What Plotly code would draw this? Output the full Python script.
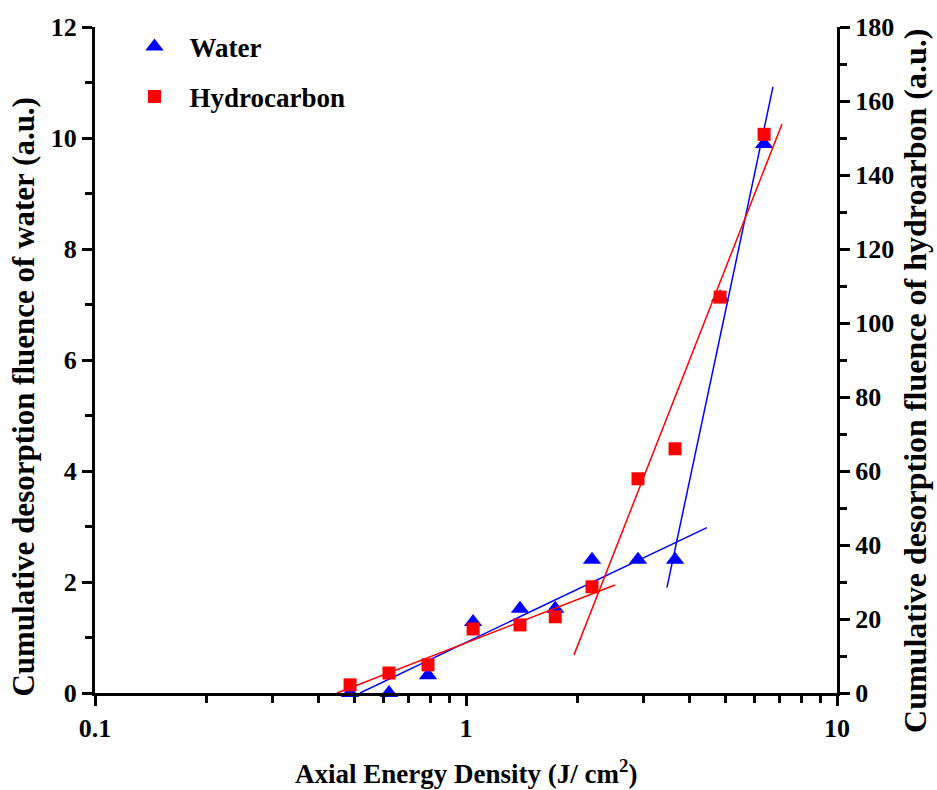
import plotly.graph_objects as go

# Data
energy = [0.487, 0.62, 0.79, 1.045, 1.398, 1.74, 2.186, 2.908, 3.66, 4.84, 6.36]
water = [0.0, 0.0, 0.32, 1.28, 1.52, 1.52, 2.40, 2.40, 2.40, 7.13, 9.89]
hydrocarbon = [2.2, 5.4, 7.6, 17.3, 18.4, 20.6, 28.7, 57.9, 66.0, 107.0, 151.0]

# Linear fit segments (endpoints of fitted lines)
water_fit1_x = [0.518, 4.46]
water_fit1_y = [0.0, 2.98]
water_fit2_x = [3.48, 6.72]
water_fit2_y = [1.9, 10.92]
hc_fit1_x = [0.449, 2.52]
hc_fit1_y = [0.0, 29.2]
hc_fit2_x = [1.955, 7.11]
hc_fit2_y = [10.3, 153.8]

x_tickvals = [0.1, 1, 10]
x_ticktext = ["0.1", "1", "10"]
x_minor_vals = [0.2, 0.3, 0.4, 0.5, 0.6, 0.7, 0.8, 0.9, 2, 3, 4, 5, 6, 7, 8, 9]

FONT = "Times New Roman, Liberation Serif, serif"
BLUE = "#0000ff"
RED = "#ff0000"

fig = go.Figure()

fig.add_trace(go.Scatter(x=water_fit1_x, y=water_fit1_y, mode="lines",
                         line=dict(color=BLUE, width=1.5), showlegend=False, yaxis="y"))
fig.add_trace(go.Scatter(x=water_fit2_x, y=water_fit2_y, mode="lines",
                         line=dict(color=BLUE, width=1.5), showlegend=False, yaxis="y"))
fig.add_trace(go.Scatter(x=hc_fit1_x, y=hc_fit1_y, mode="lines",
                         line=dict(color=RED, width=1.5), showlegend=False, yaxis="y2"))
fig.add_trace(go.Scatter(x=hc_fit2_x, y=hc_fit2_y, mode="lines",
                         line=dict(color=RED, width=1.5), showlegend=False, yaxis="y2"))

fig.add_trace(go.Scatter(x=energy, y=water, mode="markers", name="Water",
                         marker=dict(symbol="triangle-up", size=16, color=BLUE,
                                     line=dict(width=0)),
                         yaxis="y", legendgroup="w", cliponaxis=False))
fig.add_trace(go.Scatter(x=energy, y=hydrocarbon, mode="markers", name="Hydrocarbon",
                         marker=dict(symbol="square", size=13, color=RED,
                                     line=dict(width=0)),
                         yaxis="y2", legendgroup="h", cliponaxis=False))

axis_common = dict(showline=True, linecolor="black", linewidth=3,
                   ticks="outside", tickcolor="black", tickwidth=3, ticklen=10,
                   showgrid=False, zeroline=False,
                   tickfont=dict(family=FONT, size=26, color="black", weight="bold"))

fig.update_layout(
    width=937, height=790,
    margin=dict(l=95, r=100, t=27, b=97),
    paper_bgcolor="white", plot_bgcolor="white",
    font=dict(family=FONT, color="black"),
    showlegend=True,
    legend=dict(x=0.033, y=1.007, xanchor="left", yanchor="top",
                font=dict(family=FONT, size=27, color="black", weight="bold"),
                bgcolor="rgba(0,0,0,0)", tracegroupgap=12, itemwidth=60),
    xaxis=dict(type="log", range=[-1, 1], tickmode="array",
               tickvals=x_tickvals, ticktext=x_ticktext,
               minor=dict(ticks="outside", tickmode="array", tickvals=x_minor_vals,
                          ticklen=7, tickwidth=2.5, tickcolor="black", showgrid=False),
               **axis_common),
    yaxis=dict(range=[0, 12], dtick=2, tick0=0,
               minor=dict(ticks="outside", dtick=1, ticklen=7, tickwidth=2.5,
                          tickcolor="black", showgrid=False),
               **axis_common),
    yaxis2=dict(range=[0, 180], dtick=20, tick0=0, overlaying="y", side="right",
                minor=dict(ticks="outside", dtick=10, ticklen=7, tickwidth=2.5,
                           tickcolor="black", showgrid=False),
                **axis_common),
    annotations=[
        dict(text="Cumulative desorption fluence of water (a.u.)", xref="paper", yref="paper",
             x=-0.0957, y=0.445, xanchor="center", yanchor="middle", textangle=-90,
             showarrow=False, font=dict(family=FONT, size=31, color="black", weight="bold")),
        dict(text="Cumulative desorption fluence of hydroarbon (a.u.)", xref="paper", yref="paper",
             x=1.106, y=0.468, xanchor="center", yanchor="middle", textangle=-90,
             showarrow=False, font=dict(family=FONT, size=32, color="black", weight="bold")),
        dict(text="Axial Energy Density (J/ cm<sup>2</sup>)", xref="paper", yref="paper",
             x=0.5, y=-0.118, xanchor="center", yanchor="middle",
             showarrow=False, font=dict(family=FONT, size=27, color="black", weight="bold")),
    ],
)

fig.write_html("out.html")
